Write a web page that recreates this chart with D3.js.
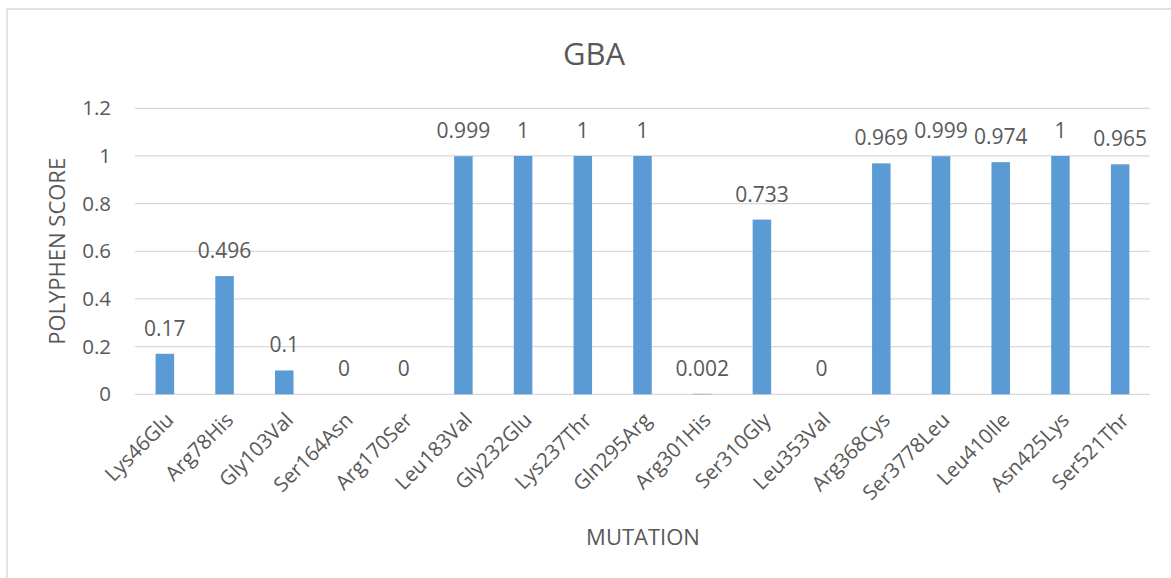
<!DOCTYPE html>
<html>
<head>
<meta charset="utf-8">
<script src="https://cdn.jsdelivr.net/npm/d3@7"></script>
<style>
  body { margin: 0; background: #fff; }
  svg text { font-family: "Open Sans", Lato, sans-serif; fill: #595959; }
</style>
</head>
<body>
<div id="chart"></div>
<script>
// polyphen scores per GBA mutation
var mutations = ["Lys46Glu", "Arg78His", "Gly103Val", "Ser164Asn", "Arg170Ser", "Leu183Val",
  "Gly232Glu", "Lys237Thr", "Gln295Arg", "Arg301His", "Ser310Gly", "Leu353Val",
  "Arg368Cys", "Ser3778Leu", "Leu410Ile", "Asn425Lys", "Ser521Thr"];
var scores = [0.17, 0.496, 0.1, 0, 0, 0.999, 1, 1, 1, 0.002, 0.733, 0, 0.969, 0.999, 0.974, 1, 0.965];
var yTicks = [0, 0.2, 0.4, 0.6, 0.8, 1, 1.2];

var W = 1171, H = 578;
var margin = {top: 108.3, right: 21, bottom: 183.7, left: 135};

var svg = d3.select("#chart").append("svg")
    .attr("width", W)
    .attr("height", H);

// outer chart border (only top + left visible in the crop)
svg.append("rect")
    .attr("x", 7).attr("y", 9)
    .attr("width", W + 20).attr("height", H + 20)
    .attr("fill", "none")
    .attr("stroke", "#d9d9d9")
    .attr("stroke-width", 1.5);

var x = d3.scaleBand()
    .domain(mutations)
    .range([margin.left, W - margin.right])
    .paddingInner(0.69)
    .paddingOuter(0.345);

var y = d3.scaleLinear()
    .domain([0, 1.2])
    .range([H - margin.bottom, margin.top]);

// gridlines
svg.append("g")
  .selectAll("line")
  .data(yTicks)
  .enter().append("line")
    .attr("x1", margin.left)
    .attr("x2", W - margin.right)
    .attr("y1", function(d) { return y(d); })
    .attr("y2", function(d) { return y(d); })
    .attr("stroke", "#d9d9d9")
    .attr("stroke-width", 1.3);

// y tick labels
svg.append("g")
  .selectAll("text")
  .data(yTicks)
  .enter().append("text")
    .attr("x", 111)
    .attr("y", function(d) { return y(d); })
    .attr("dy", "0.35em")
    .attr("text-anchor", "end")
    .style("font-size", "20.5px")
    .text(function(d) { return d; });

// bars
svg.append("g")
  .selectAll("rect")
  .data(scores)
  .enter().append("rect")
    .attr("x", function(d, i) { return x(mutations[i]); })
    .attr("y", function(d) { return y(d); })
    .attr("width", x.bandwidth())
    .attr("height", function(d) { return y(0) - y(d); })
    .attr("fill", "#5b9bd5");

// data labels
svg.append("g")
  .selectAll("text")
  .data(scores)
  .enter().append("text")
    .attr("x", function(d, i) { return x(mutations[i]) + x.bandwidth() / 2; })
    .attr("y", function(d) { return y(d) - 18; })
    .attr("text-anchor", "middle")
    .style("font-size", "21px")
    .text(function(d) { return d; });

// category labels, rotated
svg.append("g")
  .selectAll("text")
  .data(mutations)
  .enter().append("text")
    .attr("transform", function(d) {
      return "translate(" + (x(d) + x.bandwidth() / 2 + 5) + "," + (y(0) + 22) + ") rotate(-45)";
    })
    .attr("text-anchor", "end")
    .attr("dy", "0.35em")
    .style("font-size", "20.5px")
    .text(function(d) { return d; });

// title
svg.append("text")
    .attr("x", 594)
    .attr("y", 65)
    .attr("text-anchor", "middle")
    .style("font-size", "31px")
    .text("GBA");

// axis titles
svg.append("text")
    .attr("x", 643)
    .attr("y", 545)
    .attr("text-anchor", "middle")
    .style("font-size", "22px")
    .text("MUTATION");

svg.append("text")
    .attr("transform", "translate(57," + ((y(0) + y(1.2)) / 2) + ") rotate(-90)")
    .attr("dy", "0.35em")
    .attr("text-anchor", "middle")
    .style("font-size", "22px")
    .text("POLYPHEN SCORE");
</script>
</body>
</html>
